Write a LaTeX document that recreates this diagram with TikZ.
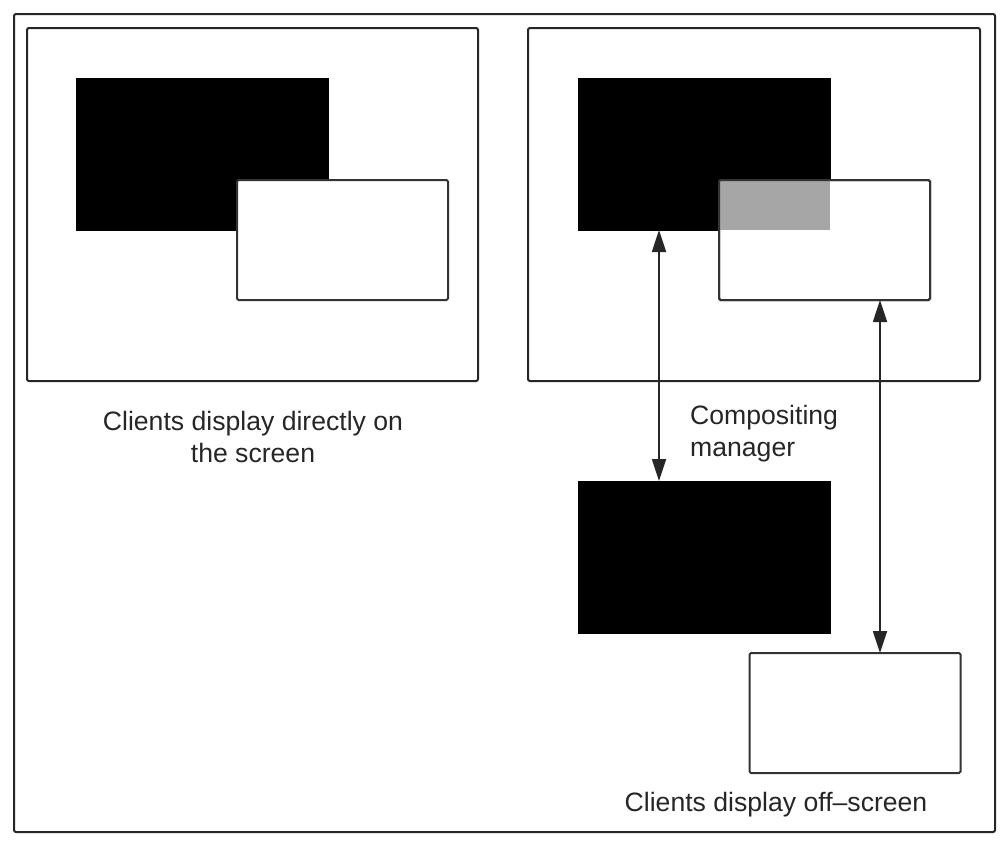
\documentclass[tikz,border=0pt]{standalone}
\usepackage{fontspec}
\setmainfont{Liberation Sans}
\usetikzlibrary{arrows.meta}
\begin{document}
\begin{tikzpicture}[x=1pt,y=-1pt,
  frame/.style={draw=black!85,line width=2pt,rounded corners=2pt,inner sep=0pt,outer sep=0pt},
  blackwin/.style={fill=black,draw=black,line width=1pt,inner sep=0pt,outer sep=0pt,minimum width=252pt,minimum height=152pt},
  whitewin/.style={draw=black!80,line width=2pt,rounded corners=1.5pt,inner sep=0pt,outer sep=0pt,minimum width=211pt,minimum height=120pt},
  dbl/.style={line width=1.8pt,draw=black!85,{Triangle[length=22pt,width=14pt]}-{Triangle[length=22pt,width=14pt]}},
  lbl/.style={font=\fontsize{26.6}{32}\selectfont,text=black!85,inner sep=0pt}]
\useasboundingbox (0,0) rectangle (1006,847);
\node[frame,minimum width=981pt,minimum height=818pt] (outer) at (504.5,423) {};
% left screen
\node[frame,minimum width=451pt,minimum height=353pt] (lscreen) at (252.5,204.5) {};
\node[blackwin] (lblack) at (202,154) {};
\node[whitewin,fill=white] (lwhite) at (342.5,240) {};
% right screen
\node[frame,minimum width=452pt,minimum height=353pt] (rscreen) at (754,204.5) {};
\node[blackwin] (rblack) at (704,154) {};
\node[whitewin,fill=white] (rwhite) at (824.5,240) {};
\fill[black!35] (rwhite.north west) rectangle (rblack.south east);
\node[whitewin] at (rwhite.center) {};
% off-screen
\node[blackwin] (bblack) at (704,557) {};
\node[whitewin,fill=white] (bwhite) at (855,713) {};
% arrows
\draw[dbl] ([xshift=-45pt]rblack.south) -- ([xshift=-45pt]bblack.north);
\draw[dbl] ([xshift=55.5pt]rwhite.south) -- ([xshift=55.5pt]rwhite.south |- bwhite.north);
% labels
\node[lbl,align=center] (ltext) at (253,437) {Clients display directly on\\the screen};
\node[lbl,align=left,anchor=west] (ctext) at (690,434) {Compositing\\manager};
\node[lbl] (btext) at (776,805) {Clients display off–screen};
\end{tikzpicture}
\end{document}
